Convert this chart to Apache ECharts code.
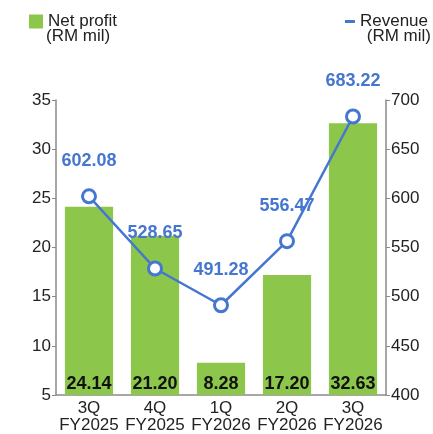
<!DOCTYPE html>
<html>
<head>
<meta charset="utf-8">
<style>
    html, body { margin: 0; padding: 0; background: #fff; }
    #chart { width: 433px; height: 434px; }
</style>
<script src="https://cdn.jsdelivr.net/npm/echarts@6/dist/echarts.min.js"></script>
</head>
<body>
<div id="chart"></div>
<script>
// data
const categories = ['3Q\nFY2025', '4Q\nFY2025', '1Q\nFY2026', '2Q\nFY2026', '3Q\nFY2026'];
const netProfit = [24.14, 21.20, 8.28, 17.20, 32.63];
const revenue = [602.08, 528.65, 491.28, 556.47, 683.22];

const FONT = 'Liberation Sans';
const GREEN = '#8cc64b';
const BLUE = '#4577d0';
const AXIS_GREY = '#8a8a8a';

const chart = echarts.init(document.getElementById('chart'), null, { renderer: 'canvas' });

// shared axis look
const baseAxis = {
    type: 'value',
    splitLine: { show: false },
    axisLine: { show: true, lineStyle: { color: AXIS_GREY, width: 1.5 } },
    axisTick: { show: true, length: 4, lineStyle: { color: AXIS_GREY } },
    axisLabel: { color: '#222', fontSize: 17, fontFamily: FONT, margin: 5 }
};

const option = {
    animation: false,
    textStyle: { fontFamily: FONT },
    grid: { left: 56, right: 47, top: 100, bottom: 39 },
    legend: [
        {
            data: ['Net profit'],
            left: 24, top: 8,
            icon: 'rect', itemWidth: 14, itemHeight: 14, itemGap: 7,
            itemStyle: { color: GREEN },
            textStyle: { fontSize: 17, color: '#222', fontFamily: FONT }
        },
        {
            data: ['Revenue'],
            right: 0, top: 8,
            icon: 'rect', itemWidth: 10, itemHeight: 3, itemGap: 6,
            itemStyle: { color: BLUE, borderWidth: 0 },
            lineStyle: { opacity: 0 },
            textStyle: { fontSize: 17, color: '#222', fontFamily: FONT }
        }
    ],
    graphic: [
        { type: 'text', left: 46, top: 28, style: { text: '(RM mil)', fontSize: 17, fontFamily: FONT, fill: '#222' } },
        { type: 'text', right: 2, top: 28, style: { text: '(RM mil)', fontSize: 17, fontFamily: FONT, fill: '#222' } }
    ],
    xAxis: {
        type: 'category',
        data: categories,
        axisLine: { show: true, lineStyle: { color: AXIS_GREY, width: 1.5 } },
        axisTick: { show: false },
        axisLabel: { color: '#222', fontSize: 17, fontFamily: FONT, lineHeight: 17, margin: 5, interval: 0 }
    },
    yAxis: [
        Object.assign({}, baseAxis, { min: 5, max: 35, interval: 5, position: 'left' }),
        Object.assign({}, baseAxis, { min: 400, max: 700, interval: 50, position: 'right' })
    ],
    series: [
        {
            name: 'Net profit',
            type: 'bar',
            yAxisIndex: 0,
            barWidth: '73%',
            itemStyle: { color: GREEN },
            label: {
                show: true,
                position: 'insideBottom',
                distance: 2,
                color: '#111',
                fontWeight: 'bold',
                fontSize: 18,
                fontFamily: FONT,
                formatter: p => p.value.toFixed(2)
            },
            data: netProfit
        },
        {
            name: 'Revenue',
            type: 'line',
            yAxisIndex: 1,
            symbol: 'circle',
            symbolSize: 13,
            lineStyle: { color: BLUE, width: 2.5 },
            itemStyle: { color: '#fff', borderColor: BLUE, borderWidth: 3 },
            label: {
                show: true,
                position: 'top',
                distance: 18,
                color: BLUE,
                fontWeight: 'bold',
                fontSize: 18,
                fontFamily: FONT,
                formatter: p => p.value.toFixed(2)
            },
            data: revenue
        }
    ]
};

chart.setOption(option);
</script>
</body>
</html>
